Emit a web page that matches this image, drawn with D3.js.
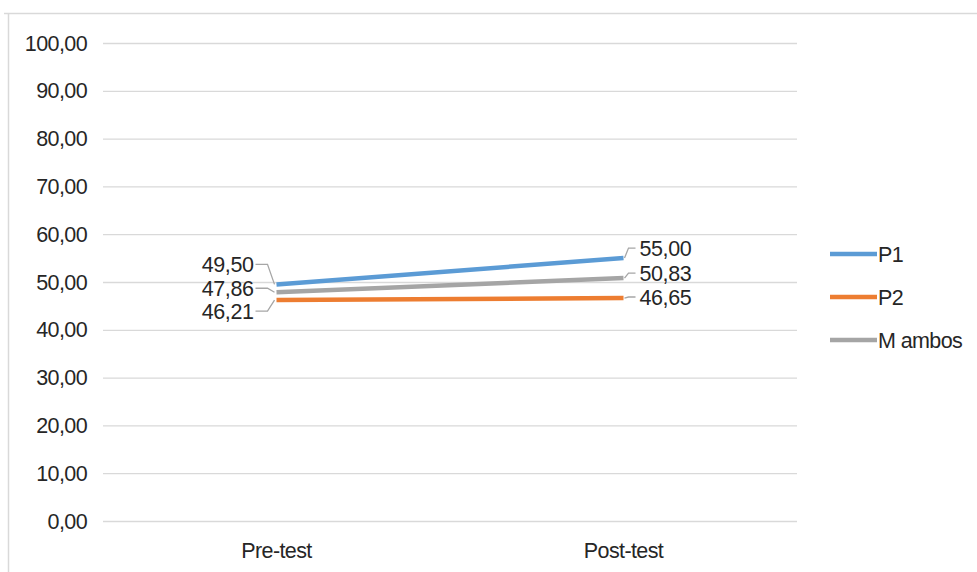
<!DOCTYPE html>
<html><head><meta charset="utf-8">
<script src="https://cdn.jsdelivr.net/npm/d3@7"></script>
<style>
html,body{margin:0;padding:0;background:#fff;}
text{font-family:"Liberation Sans",Arial,sans-serif;fill:#262626;}
</style></head>
<body>
<script>
const categories = ["Pre-test", "Post-test"];
const seriesNames = ["P1", "P2", "M ambos"];
const p1 = [49.50, 55.00];
const p2 = [46.21, 46.65];
const mAmbos = [47.86, 50.83];
const yTicks = [0,10,20,30,40,50,60,70,80,90,100];
const colors = ["#5B9BD5", "#ED7D31", "#A5A5A5"];

const W = 977, H = 572;
const svg = d3.select("body").append("svg").attr("width", W).attr("height", H);

// chart frame
svg.append("path").attr("d", "M4,13.5H977M8.5,13V572").attr("stroke", "#d9d9d9").attr("stroke-width", 1.5).attr("fill", "none");

const x0 = 103, x1 = 797;
const x = d3.scalePoint().domain(categories).range([x0, x1]).padding(0.5);
const y = d3.scaleLinear().domain([0, 100]).range([521, 43]);

const fmt = v => v.toFixed(2).replace(".", ",");
const FS = 21.5;

// gridlines
svg.append("g").selectAll("line").data(yTicks).join("line")
  .attr("x1", x0).attr("x2", x1)
  .attr("y1", d => y(d) + 0.5).attr("y2", d => y(d) + 0.5)
  .attr("stroke", "#d9d9d9").attr("stroke-width", 1.3);

// y tick labels
svg.append("g").selectAll("text").data(yTicks).join("text")
  .attr("x", 87).attr("y", d => y(d)).attr("dy", "0.35em")
  .attr("text-anchor", "end").attr("font-size", FS).attr("letter-spacing", "-0.6")
  .text(d => fmt(d));

// x labels
svg.append("g").selectAll("text").data(categories).join("text")
  .attr("x", d => x(d)).attr("y", 558)
  .attr("text-anchor", "middle").attr("font-size", FS).attr("letter-spacing", "-0.6")
  .text(d => d);

const series = [
  {name: seriesNames[0], vals: p1, color: colors[0], lOff: -20, rOff: -10},
  {name: seriesNames[1], vals: p2, color: colors[1], lOff: 11, rOff: -1},
  {name: seriesNames[2], vals: mAmbos, color: colors[2], lOff: -4, rOff: -5}
];

const line = d3.line().x((d, i) => x(categories[i])).y(d => y(d));

// draw order: P2, M ambos, P1
[series[1], series[2], series[0]].forEach(s => {
  svg.append("path").attr("d", line(s.vals)).attr("fill", "none")
    .attr("stroke", s.color).attr("stroke-width", 4.5).attr("stroke-linecap", "butt");
});

// data labels with leader lines
series.forEach(s => {
  const px0 = x(categories[0]), py0 = y(s.vals[0]);
  const ly0 = py0 + s.lOff;
  svg.append("path")
    .attr("d", `M${px0 - 21},${ly0}H${px0 - 9}L${px0 - 2},${py0}`)
    .attr("fill", "none").attr("stroke", "#a6a6a6").attr("stroke-width", 1.3);
  svg.append("text").attr("x", px0 - 23).attr("y", ly0).attr("dy", "0.35em")
    .attr("text-anchor", "end").attr("font-size", FS).attr("letter-spacing", "-0.4")
    .text(fmt(s.vals[0]));

  const px1 = x(categories[1]), py1 = y(s.vals[1]);
  const ly1 = py1 + s.rOff;
  svg.append("path")
    .attr("d", `M${px1 + 1},${py1}L${px1 + 5},${ly1}H${px1 + 12}`)
    .attr("fill", "none").attr("stroke", "#a6a6a6").attr("stroke-width", 1.3);
  svg.append("text").attr("x", px1 + 16).attr("y", ly1).attr("dy", "0.35em")
    .attr("text-anchor", "start").attr("font-size", FS).attr("letter-spacing", "-0.4")
    .text(fmt(s.vals[1]));
});

// legend
const leg = svg.append("g").selectAll("g").data(series).join("g")
  .attr("transform", (d, i) => `translate(830,${254 + i * 43})`);
leg.append("line").attr("x1", 0).attr("x2", 47).attr("stroke", d => d.color).attr("stroke-width", 4.5);
leg.append("text").attr("x", 48).attr("dy", "0.35em").attr("font-size", FS).attr("letter-spacing", "-0.6").text(d => d.name);
</script>
</body></html>
